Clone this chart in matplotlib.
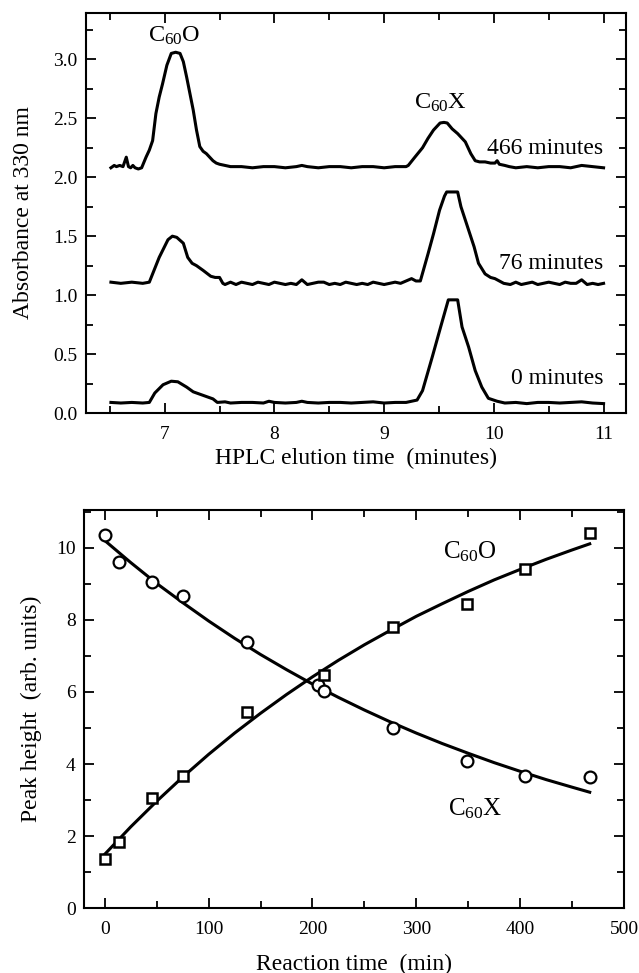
import matplotlib
matplotlib.use("Agg")
import matplotlib.pyplot as plt
from matplotlib.ticker import MultipleLocator, FormatStrFormatter

plt.rcParams['font.family'] = ['Liberation Serif', 'DejaVu Serif']
plt.rcParams['mathtext.fontset'] = 'custom'
plt.rcParams['mathtext.rm'] = 'Liberation Serif'
plt.rcParams['mathtext.it'] = 'Liberation Serif:italic'
plt.rcParams['mathtext.default'] = 'regular'

# ---------------- top panel: HPLC traces ----------------
x466 = [6.51, 6.54, 6.56, 6.59, 6.62, 6.65, 6.67, 6.69, 6.71, 6.73, 6.76, 6.79,
        6.83, 6.86, 6.89, 6.92, 6.95, 6.98, 7.02, 7.06, 7.10, 7.14, 7.17, 7.20,
        7.23, 7.26, 7.29, 7.32, 7.35, 7.38, 7.41, 7.44, 7.47, 7.50, 7.55, 7.60,
        7.70, 7.80, 7.90, 8.00, 8.10, 8.20, 8.25, 8.30, 8.40, 8.50, 8.60, 8.70,
        8.80, 8.90, 9.00, 9.10, 9.20, 9.22, 9.28, 9.35, 9.40, 9.45, 9.51, 9.545,
        9.575, 9.62, 9.67, 9.74, 9.79, 9.83, 9.87, 9.92, 9.97, 10.01, 10.03, 10.05,
        10.10, 10.14, 10.20, 10.30, 10.40, 10.50, 10.60, 10.70, 10.80, 10.90, 11.00]
y466 = [2.08, 2.10, 2.09, 2.10, 2.09, 2.17, 2.09, 2.08, 2.10, 2.08, 2.07, 2.08,
        2.17, 2.23, 2.31, 2.54, 2.68, 2.79, 2.95, 3.05, 3.06, 3.05, 2.98, 2.85,
        2.71, 2.57, 2.40, 2.26, 2.22, 2.20, 2.17, 2.14, 2.12, 2.11, 2.10, 2.09,
        2.09, 2.08, 2.09, 2.09, 2.08, 2.09, 2.10, 2.09, 2.08, 2.09, 2.09, 2.08,
        2.09, 2.09, 2.08, 2.09, 2.09, 2.10, 2.17, 2.25, 2.33, 2.40, 2.46, 2.465,
        2.46, 2.41, 2.37, 2.30, 2.20, 2.14, 2.13, 2.13, 2.12, 2.12, 2.14, 2.11,
        2.10, 2.09, 2.08, 2.09, 2.08, 2.09, 2.09, 2.08, 2.10, 2.09, 2.08]

x76 = [6.51, 6.60, 6.70, 6.80, 6.86, 6.95, 7.03, 7.07, 7.11, 7.17, 7.21, 7.25,
       7.29, 7.35, 7.42, 7.46, 7.50, 7.53,
       7.55, 7.60, 7.65, 7.70, 7.75, 7.80, 7.85, 7.90, 7.95, 8.00, 8.05, 8.10,
       8.15, 8.20, 8.25, 8.30, 8.35, 8.40, 8.45, 8.50, 8.55, 8.60, 8.65, 8.70,
       8.75, 8.80, 8.85, 8.90, 8.95, 9.00, 9.05, 9.10, 9.15, 9.20, 9.25, 9.29,
       9.33, 9.40, 9.45, 9.505, 9.55, 9.57, 9.67, 9.70, 9.76, 9.82, 9.86, 9.92,
       9.97, 10.01, 10.05, 10.09, 10.15, 10.20, 10.25, 10.30, 10.35, 10.40, 10.45,
       10.50, 10.55, 10.60, 10.65, 10.70, 10.75, 10.80, 10.85, 10.90, 10.95, 11.00]
y76 = [1.11, 1.10, 1.11, 1.10, 1.11, 1.32, 1.47, 1.50, 1.49, 1.44, 1.32, 1.27,
       1.25, 1.21, 1.16, 1.15, 1.15, 1.10,
       1.09, 1.11, 1.09, 1.11, 1.10, 1.09, 1.11, 1.10, 1.09, 1.11, 1.10, 1.09,
       1.10, 1.09, 1.13, 1.09, 1.10, 1.11, 1.11, 1.09, 1.10, 1.09, 1.11, 1.10,
       1.09, 1.10, 1.09, 1.11, 1.10, 1.09, 1.10, 1.11, 1.10, 1.12, 1.14, 1.12,
       1.12, 1.35, 1.52, 1.72, 1.84, 1.875, 1.875, 1.75, 1.58, 1.41, 1.27, 1.18,
       1.15, 1.14, 1.12, 1.10, 1.09, 1.11, 1.09, 1.10, 1.11, 1.09, 1.10,
       1.11, 1.10, 1.09, 1.11, 1.10, 1.10, 1.13, 1.09, 1.10, 1.09, 1.10]

x0 = [6.51, 6.60, 6.70, 6.80, 6.86, 6.91, 6.985, 7.06, 7.12, 7.20, 7.26, 7.35,
      7.44, 7.48, 7.55, 7.60, 7.70, 7.80, 7.90, 7.95, 8.00, 8.10, 8.20, 8.25,
      8.30, 8.40, 8.50, 8.60, 8.70, 8.80, 8.90, 9.00, 9.10, 9.20, 9.25, 9.30,
      9.35, 9.44, 9.515, 9.585, 9.67, 9.71, 9.77, 9.83, 9.89, 9.95, 10.03, 10.10,
      10.20, 10.30, 10.40, 10.50, 10.60, 10.70, 10.80, 10.90, 11.00]
y0 = [0.09, 0.085, 0.09, 0.085, 0.09, 0.17, 0.24, 0.27, 0.265, 0.22, 0.18, 0.15,
      0.12, 0.09, 0.095, 0.085, 0.09, 0.09, 0.085, 0.10, 0.09, 0.085, 0.09, 0.10,
      0.09, 0.085, 0.09, 0.09, 0.085, 0.09, 0.095, 0.085, 0.09, 0.09, 0.10, 0.11,
      0.19, 0.48, 0.73, 0.96, 0.96, 0.73, 0.56, 0.36, 0.22, 0.125, 0.10, 0.085,
      0.09, 0.08, 0.09, 0.09, 0.085, 0.09, 0.095, 0.085, 0.08]

trace_labels = ["466 minutes", "76 minutes", "0 minutes"]
trace_label_y = [2.24, 1.27, 0.29]

# ---------------- bottom panel: kinetics ----------------
t_circ = [0, 14, 45, 75, 137, 205, 211, 278, 349, 405, 467]
h_circ = [10.35, 9.6, 9.05, 8.65, 7.4, 6.2, 6.02, 5.0, 4.08, 3.67, 3.63]
t_sq = [0, 14, 45, 75, 137, 211, 278, 349, 405, 467]
h_sq = [1.38, 1.83, 3.05, 3.68, 5.45, 6.48, 7.79, 8.44, 9.42, 10.42]

t_fit = [0, 25, 50, 75, 100, 125, 150, 175, 200, 225, 250, 275, 300, 325,
         350, 375, 400, 425, 450, 467]
fit_decay = [10.20, 9.59, 9.01, 8.48, 7.97, 7.49, 7.04, 6.62, 6.22, 5.85,
             5.50, 5.17, 4.86, 4.57, 4.30, 4.04, 3.80, 3.57, 3.36, 3.22]
fit_rise = [1.50, 2.26, 2.97, 3.64, 4.27, 4.86, 5.41, 5.93, 6.42, 6.88,
            7.31, 7.71, 8.10, 8.45, 8.79, 9.11, 9.40, 9.68, 9.94, 10.11]

LW = 2.2
TICKFS = 14
LABFS = 17

fig = plt.figure(figsize=(6.39, 9.73), dpi=100)
ax1 = fig.add_axes([0.1346, 0.5755, 0.845, 0.4114])
ax2 = fig.add_axes([0.1315, 0.0665, 0.845, 0.4094])

for ax in (ax1, ax2):
    for s in ax.spines.values():
        s.set_linewidth(1.5)
    ax.tick_params(which='both', direction='in', top=True, right=True,
                   width=1.3, labelsize=TICKFS)
    ax.tick_params(axis='y', which='both', pad=6)
    ax.tick_params(axis='x', which='both', pad=9.5)
    ax.tick_params(which='major', length=7)
    ax.tick_params(which='minor', length=5)

# top
for xs, ys in ((x466, y466), (x76, y76), (x0, y0)):
    ax1.plot(xs, ys, color='black', lw=LW, solid_joinstyle='round')
for lab, ly in zip(trace_labels, trace_label_y):
    ax1.text(11.0, ly, lab, ha='right', va='center', fontsize=17)
ax1.text(7.085, 3.20, r"C$_{60}$O", ha='center', va='center', fontsize=17.5)
ax1.text(9.51, 2.63, r"C$_{60}$X", ha='center', va='center', fontsize=17.5)
ax1.set_xlim(6.283, 11.204)
ax1.set_ylim(0, 3.395)
ax1.xaxis.set_major_locator(MultipleLocator(1))
ax1.xaxis.set_minor_locator(MultipleLocator(0.5))
ax1.yaxis.set_major_locator(MultipleLocator(0.5))
ax1.yaxis.set_minor_locator(MultipleLocator(0.25))
ax1.yaxis.set_major_formatter(FormatStrFormatter('%.1f'))
ax1.set_xlabel("HPLC elution time  (minutes)", fontsize=LABFS, labelpad=3)
ax1.set_ylabel("Absorbance at 330 nm", fontsize=LABFS, labelpad=14)

# bottom
ax2.plot(t_fit, fit_decay, color='black', lw=LW)
ax2.plot(t_fit, fit_rise, color='black', lw=LW)
ax2.plot(t_circ, h_circ, linestyle='none', marker='o', ms=8.5,
         mfc='white', mec='black', mew=1.6)
ax2.plot(t_sq, h_sq, linestyle='none', marker='s', ms=7.5,
         mfc='white', mec='black', mew=1.8)
ax2.text(326, 9.9, r"C$_{60}$O", ha='left', va='center', fontsize=18)
ax2.text(331, 2.75, r"C$_{60}$X", ha='left', va='center', fontsize=18)
ax2.set_xlim(-20, 500)
ax2.set_ylim(0, 11.05)
ax2.xaxis.set_major_locator(MultipleLocator(100))
ax2.xaxis.set_minor_locator(MultipleLocator(50))
ax2.yaxis.set_major_locator(MultipleLocator(2))
ax2.yaxis.set_minor_locator(MultipleLocator(1))
ax2.set_xlabel("Reaction time  (min)", fontsize=LABFS, labelpad=11)
ax2.set_ylabel("Peak height  (arb. units)", fontsize=LABFS, labelpad=10)

fig.savefig("out.png", dpi=100)
